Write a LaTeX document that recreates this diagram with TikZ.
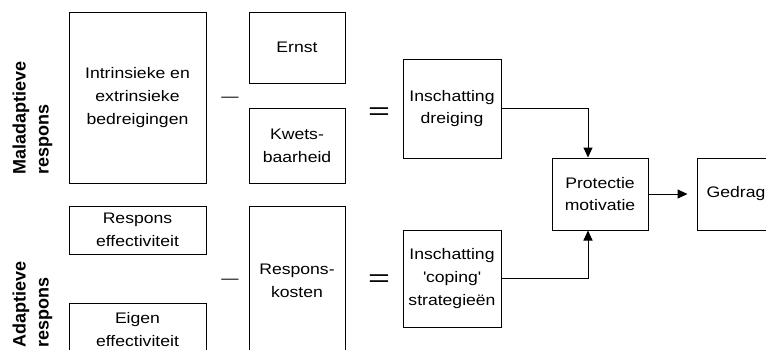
\documentclass[tikz,border=0pt]{standalone}
\usepackage{fontspec}
\setmainfont{Liberation Sans}[FakeStretch=1.15]
\newfontfamily\lblfont{Liberation Sans}
\usetikzlibrary{arrows.meta}
\begin{document}
\begin{tikzpicture}[x=1pt,y=-1pt,
  box/.style={draw,line width=1pt,inner sep=0pt,align=center,font=\fontsize{15.3}{22.7}\selectfont},
  lbl/.style={rotate=90,anchor=north west,align=left,inner sep=0pt,font=\lblfont\bfseries\fontsize{18}{23}\selectfont},
  opm/.style={inner sep=0pt,anchor=base,font=\fontsize{15}{15}\selectfont},
  opeq/.style={inner sep=0pt,anchor=base,xscale=1.36,font=\fontsize{24}{24}\selectfont},
  arr/.style={line width=1pt,-{Triangle[length=10pt,width=9pt]}}]
\useasboundingbox (0,0) rectangle (766,349);
% labels
\node[lbl] (lmal) at (12.5,175) {Maladaptieve\\respons};
\node[lbl] (lada) at (12.5,348) {Adaptieve\\respons};
% boxes
\node[box,minimum width=137pt,minimum height=171pt] (intr) at (137.5,97.5) {Intrinsieke en\\extrinsieke\\bedreigingen};
\node[box,minimum width=96pt,minimum height=71pt] (ernst) at (297,47.5) {Ernst};
\node[box,minimum width=96pt,minimum height=75pt] (kwets) at (297,145.5) {Kwets-\\baarheid};
\node[box,minimum width=98pt,minimum height=99pt] (dreig) at (452,108.5) {Inschatting\\dreiging};
\node[box,minimum width=137pt,minimum height=48pt] (reff) at (137.5,230) {Respons\\effectiviteit};
\node[box,minimum width=137pt,minimum height=53pt] (eigen) at (137.5,329.5) {Eigen\\effectiviteit};
\node[box,minimum width=96pt,minimum height=150pt] (kost) at (297,281) {Respons-\\kosten};
\node[box,minimum width=98pt,minimum height=97pt] (coping) at (452,278.5) {Inschatting\\\textquotesingle coping\textquotesingle\\strategieën};
\node[box,minimum width=96pt,minimum height=72pt] (prot) at (600,194) {Protectie\\motivatie};
\node[box,minimum width=78pt,minimum height=72pt] (gedrag) at (736,194) {Gedrag};
% operators
\node[opm] (m1) at (230,101) {—};
\node[opm] (m2) at (230,283) {—};
\node[opeq] (e1) at (379,119.5) {=};
\node[opeq] (e2) at (379,286.5) {=};
% connectors
\draw[arr] (dreig.east) -| ([xshift=-12pt]prot.north);
\draw[arr] (coping.east) -| ([xshift=-12pt]prot.south);
\draw[arr,shorten >=9pt] (prot.east) -- (gedrag.west);
\end{tikzpicture}
\end{document}
